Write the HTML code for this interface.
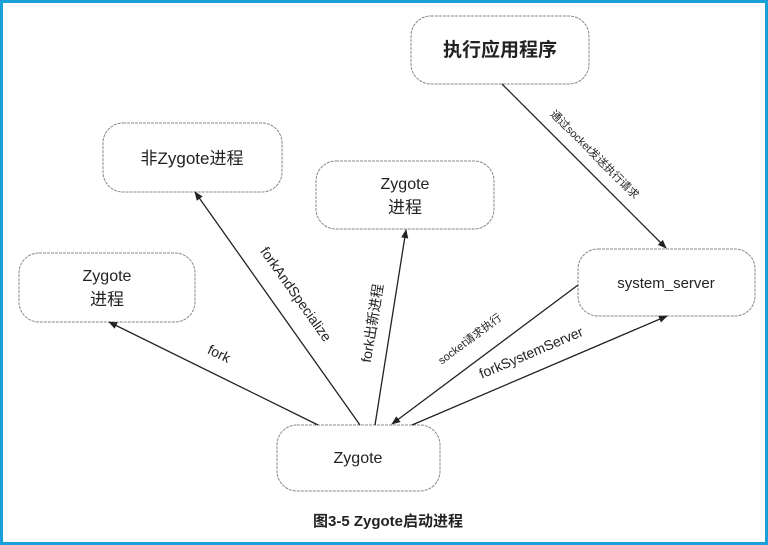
<!DOCTYPE html>
<html><head><meta charset="utf-8"><style>
html,body{margin:0;padding:0;background:#fff;}
svg{display:block;}
text{font-family:"Liberation Sans","Noto Sans CJK SC",sans-serif;fill:#222;}
</style></head><body>
<svg width="768" height="545" viewBox="0 0 768 545" xmlns="http://www.w3.org/2000/svg">
<defs>
<marker id="a" viewBox="0 0 10 10" refX="9" refY="5" markerWidth="9" markerHeight="9" orient="auto-start-reverse" markerUnits="userSpaceOnUse"><path d="M0,1 L10,5 L0,9 z" fill="#222"/></marker>
</defs>
<rect x="1.5" y="1.5" width="765" height="542" fill="#fff" stroke="#1a9fd9" stroke-width="3"/>
<g fill="#fff" stroke="#888" stroke-width="1" stroke-dasharray="3,1">
<rect x="411" y="16" width="178" height="68" rx="20"/>
<rect x="103" y="123" width="179" height="69" rx="20"/>
<rect x="316" y="161" width="178" height="68" rx="20"/>
<rect x="19" y="253" width="176" height="69" rx="20"/>
<rect x="578" y="249" width="177" height="67" rx="20"/>
<rect x="277" y="425" width="163" height="66" rx="20"/>
</g>
<g stroke="#222" stroke-width="1.3" fill="none" marker-end="url(#a)">
<line x1="318" y1="425" x2="109" y2="322"/>
<line x1="360" y1="425" x2="195" y2="192"/>
<line x1="375" y1="425" x2="406" y2="230"/>
<line x1="578" y1="285" x2="392" y2="424"/>
<line x1="412" y1="425" x2="667" y2="316"/>
<line x1="502" y1="84" x2="666" y2="248"/>
</g>
<g text-anchor="middle">
<text x="500" y="56" font-size="19" font-weight="bold">执行应用程序</text>
<text x="192" y="164" font-size="17">非Zygote进程</text>
<text x="405" y="189" font-size="16">Zygote</text>
<text x="405" y="213" font-size="17">进程</text>
<text x="107" y="281" font-size="16">Zygote</text>
<text x="107" y="305" font-size="17">进程</text>
<text x="666" y="288" font-size="15">system_server</text>
<text x="358" y="463" font-size="16">Zygote</text>
<text x="388" y="526" font-size="15" font-weight="bold">图3-5   Zygote启动进程</text>
<text font-size="14" transform="translate(217,358) rotate(26)">fork</text>
<text font-size="14" transform="translate(292,297) rotate(54.7)">forkAndSpecialize</text>
<text font-size="14" transform="translate(377,324) rotate(-81)">fork出新进程</text>
<text font-size="11" transform="translate(472,342) rotate(-37)">socket请求执行</text>
<text font-size="14" transform="translate(533,357) rotate(-23)">forkSystemServer</text>
<text font-size="11" transform="translate(592,157) rotate(45)">通过socket发送执行请求</text>
</g>
</svg>
</body></html>
